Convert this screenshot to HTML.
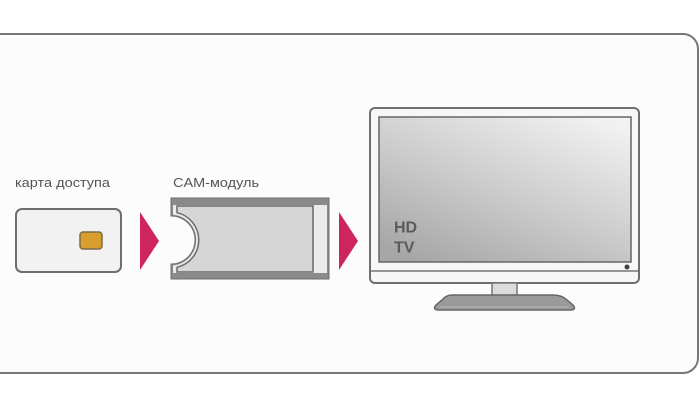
<!DOCTYPE html>
<html>
<head>
<meta charset="utf-8">
<style>
  html, body { margin: 0; padding: 0; background: #ffffff; }
  body { width: 700px; height: 400px; overflow: hidden; }
  svg { display: block; }
  text { font-family: "Liberation Sans", "DejaVu Sans", sans-serif; }
</style>
</head>
<body>
<svg width="700" height="400" viewBox="0 0 700 400" xmlns="http://www.w3.org/2000/svg">
  <defs>
    <linearGradient id="scr" x1="0.85" y1="0" x2="0.15" y2="1">
      <stop offset="0" stop-color="#f1f1f1"/>
      <stop offset="0.5" stop-color="#cdcdcd"/>
      <stop offset="1" stop-color="#a6a6a6"/>
    </linearGradient>
  </defs>

  <!-- outer frame -->
  <rect x="-20" y="34" width="718" height="339" rx="15" ry="15" fill="#fcfcfc" stroke="#777777" stroke-width="2"/>

  <!-- labels -->
  <text x="15" y="187" font-size="13" fill="#555555" textLength="95" lengthAdjust="spacingAndGlyphs">карта доступа</text>
  <text x="173" y="187" font-size="13" fill="#555555" textLength="86" lengthAdjust="spacingAndGlyphs">CAM-модуль</text>

  <!-- access card -->
  <rect x="16" y="209" width="105" height="63" rx="6" ry="6" fill="#f2f2f2" stroke="#6e6e6e" stroke-width="2"/>
  <rect x="80" y="232" width="22" height="17" rx="3" ry="3" fill="#d99f2e" stroke="#7a6a4a" stroke-width="1.5"/>

  <!-- arrows -->
  <polygon points="140,212 159,241 140,270" fill="#cc265d"/>
  <polygon points="339,212 358,241 339,270" fill="#cc265d"/>

  <!-- CAM module -->
  <path d="M171,198 H329 V279 H171 V264 A24,24 0 0 0 171,216 Z" fill="#8a8a8a" stroke="#6e6e6e" stroke-width="1"/>
  <path d="M173,205 H327 V273 H173 V265.4 A25.5,25.5 0 0 0 173,214.6 Z" fill="#ebebeb"/>
  <path d="M177,206 H313 V272 H177 V267.3 A28,28 0 0 0 177,212.7 Z" fill="#d6d6d6" stroke="#6a6a6a" stroke-width="1.5"/>

  <!-- TV -->
  <rect x="370" y="108" width="269" height="175" rx="5" ry="5" fill="#f7f7f7" stroke="#6e6e6e" stroke-width="2"/>
  <rect x="379" y="117" width="252" height="145" fill="url(#scr)" stroke="#666666" stroke-width="1.5"/>
  <line x1="371" y1="271" x2="638" y2="271" stroke="#777777" stroke-width="1.5"/>
  <circle cx="627" cy="267" r="2.5" fill="#444444"/>
  <text x="394" y="232.5" font-size="16" font-weight="bold" fill="#5a5a5a">HD</text>
  <text x="394" y="252.5" font-size="16" font-weight="bold" fill="#5a5a5a">TV</text>

  <!-- stand -->
  <rect x="492" y="283" width="25" height="16" fill="#dcdcdc" stroke="#777777" stroke-width="1.5"/>
  <path d="M452,295 H553 Q562,295 567,300 L573,305 Q577,310 570,310 H439 Q432,310 436,305 L442,300 Q446,295 452,295 Z" fill="#9a9a9a" stroke="#666666" stroke-width="1.5"/>
  <line x1="440" y1="307" x2="569" y2="307" stroke="#b8b8b8" stroke-width="1"/>
</svg>
</body>
</html>
